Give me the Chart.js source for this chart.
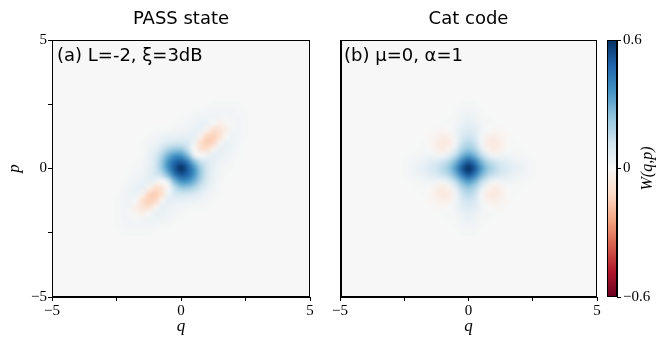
<!DOCTYPE html>
<html>
<head>
<meta charset="utf-8">
<script src="https://cdn.jsdelivr.net/npm/chart.js@4.4.0/dist/chart.umd.min.js"></script>
<style>
  html, body { margin: 0; padding: 0; background: #fff; }
  #wrap { position: relative; width: 661px; height: 340px; overflow: hidden; }
  canvas { position: absolute; top: 0; }
  #chartA { left: 0; }
  #chartB { left: 320px; }
  #chartC { left: 600px; }
</style>
</head>
<body>
<div id="wrap">
  <canvas id="chartA" width="320" height="340"></canvas>
  <canvas id="chartB" width="290" height="340"></canvas>
  <canvas id="chartC" width="61" height="340"></canvas>
</div>
<script>
const qTicks = [-5, -2.5, 0, 2.5, 5];
const pTicks = [-5, -2.5, 0, 2.5, 5];
const labelledTicks = [-5, 0, 5];
const wTicks = [-0.6, 0, 0.6];

// sample grid of the Wigner function (cell centres)
const gridQ = [-2.5, -2.25, -2, -1.75, -1.5, -1.25, -1, -0.75, -0.5, -0.25, 0,
               0.25, 0.5, 0.75, 1, 1.25, 1.5, 1.75, 2, 2.25, 2.5];
const gridP = [2.5, 2.25, 2, 1.75, 1.5, 1.25, 1, 0.75, 0.5, 0.25, 0,
               -0.25, -0.5, -0.75, -1, -1.25, -1.5, -1.75, -2, -2.25, -2.5];

// W(q,p) in units of 0.01, one row per p (top row p = 2.5)
const passW = [
  [0,0,0,0,0,0,0,0,0,0,0,0,0,0,0,1,1,1,1,1,0],
  [0,0,0,0,0,0,0,0,0,0,0,0,1,1,2,2,2,2,2,1,1],
  [0,0,0,0,0,0,0,0,0,0,1,1,2,3,3,3,2,1,2,2,1],
  [0,0,0,0,0,0,0,0,0,1,1,2,3,4,4,0,-4,-1,1,2,1],
  [0,0,0,0,0,0,1,1,1,2,2,3,4,5,-2,-10,-8,-4,2,2,1],
  [0,0,0,0,0,1,2,3,4,4,5,5,6,-2,-13,-14,-10,0,3,2,1],
  [0,0,0,0,1,2,3,6,9,11,11,10,3,-10,-15,-13,-2,4,3,2,0],
  [0,0,0,0,1,3,6,12,18,22,22,14,0,-8,-10,-2,5,4,3,1,0],
  [0,0,0,0,1,4,9,18,29,36,36,27,6,0,3,6,4,3,2,1,0],
  [0,0,0,1,2,4,11,22,36,48,51,43,27,14,10,5,3,2,1,0,0],
  [0,0,1,1,2,5,11,22,36,51,60,51,36,22,11,5,2,1,1,0,0],
  [0,0,1,2,3,5,10,14,27,43,51,48,36,22,11,4,2,1,0,0,0],
  [0,1,2,3,4,6,3,0,6,27,36,36,29,18,9,4,1,0,0,0,0],
  [0,1,3,4,5,-2,-10,-8,0,14,22,22,18,12,6,3,1,0,0,0,0],
  [0,2,3,4,-2,-13,-15,-10,3,10,11,11,9,6,3,2,1,0,0,0,0],
  [1,2,3,0,-10,-14,-13,-2,6,5,5,4,4,3,2,1,0,0,0,0,0],
  [1,2,2,-4,-8,-10,-2,5,4,3,2,2,1,1,1,0,0,0,0,0,0],
  [1,2,1,-1,-4,0,4,4,3,2,1,1,0,0,0,0,0,0,0,0,0],
  [1,2,2,1,2,3,3,3,2,1,1,0,0,0,0,0,0,0,0,0,0],
  [1,1,2,2,2,2,2,1,1,0,0,0,0,0,0,0,0,0,0,0,0],
  [0,1,1,1,1,1,0,0,0,0,0,0,0,0,0,0,0,0,0,0,0]
];

const catW = [
  [0,0,0,0,0,0,0,0,0,1,1,1,0,0,0,0,0,0,0,0,0],
  [0,0,0,0,0,0,0,0,1,2,2,2,1,0,0,0,0,0,0,0,0],
  [0,0,0,0,0,0,0,1,1,3,4,3,1,1,0,0,0,0,0,0,0],
  [0,0,0,0,0,0,1,1,2,4,6,4,2,1,1,0,0,0,0,0,0],
  [0,0,0,0,0,-1,-1,0,3,7,9,7,3,0,-1,-1,0,0,0,0,0],
  [0,0,0,0,-1,-2,-4,-3,2,9,12,9,2,-3,-4,-2,-1,0,0,0,0],
  [0,0,0,1,-1,-4,-6,-5,2,13,17,13,2,-5,-6,-4,-1,1,0,0,0],
  [0,0,1,1,0,-3,-5,-2,7,18,23,18,7,-2,-5,-3,0,1,1,0,0],
  [0,1,1,2,3,2,2,7,16,28,34,28,16,7,2,2,3,2,1,1,0],
  [1,2,3,4,7,9,13,18,28,42,51,42,28,18,13,9,7,4,3,2,1],
  [1,2,4,6,9,12,17,23,34,51,60,51,34,23,17,12,9,6,4,2,1],
  [1,2,3,4,7,9,13,18,28,42,51,42,28,18,13,9,7,4,3,2,1],
  [0,1,1,2,3,2,2,7,16,28,34,28,16,7,2,2,3,2,1,1,0],
  [0,0,1,1,0,-3,-5,-2,7,18,23,18,7,-2,-5,-3,0,1,1,0,0],
  [0,0,0,1,-1,-4,-6,-5,2,13,17,13,2,-5,-6,-4,-1,1,0,0,0],
  [0,0,0,0,-1,-2,-4,-3,2,9,12,9,2,-3,-4,-2,-1,0,0,0,0],
  [0,0,0,0,0,-1,-1,0,3,7,9,7,3,0,-1,-1,0,0,0,0,0],
  [0,0,0,0,0,0,1,1,2,4,6,4,2,1,1,0,0,0,0,0,0],
  [0,0,0,0,0,0,0,1,1,3,4,3,1,1,0,0,0,0,0,0,0],
  [0,0,0,0,0,0,0,0,1,2,2,2,1,0,0,0,0,0,0,0,0],
  [0,0,0,0,0,0,0,0,0,1,1,1,0,0,0,0,0,0,0,0,0]
];

const SERIF = "'Liberation Serif', 'DejaVu Serif', serif";
const SANS = "'DejaVu Sans', sans-serif";

// matplotlib RdBu, from -0.6 (bottom) to 0.6 (top)
const rdbuStops = ['#67001f', '#b2182b', '#d6604d', '#f4a582', '#fddbc7', '#f7f7f7',
                   '#d1e5f0', '#92c5de', '#4393c3', '#2166ac', '#053061'];
const cmap = rdbuStops.map(h => [1, 3, 5].map(i => parseInt(h.substr(i, 2), 16)));

function rdbu(t) {
  t = Math.min(1, Math.max(0, t));
  const s = t * (cmap.length - 1);
  const i = Math.min(Math.floor(s), cmap.length - 2);
  const f = s - i;
  return cmap[i].map((c, k) => Math.round(c + (cmap[i + 1][k] - c) * f));
}

function colorOf(w) {
  return rdbu((w - wTicks[0]) / (wTicks[2] - wTicks[0]));
}

function fmt(v) {
  return v < 0 ? '\u2212' + Math.abs(v) : String(v);
}

function buildImage(rows) {
  const h = rows.length, w = rows[0].length;
  const c = document.createElement('canvas');
  c.width = w;
  c.height = h;
  const g = c.getContext('2d');
  const im = g.createImageData(w, h);
  rows.forEach((row, j) => row.forEach((v, i) => {
    const rgb = colorOf(v * 0.01);
    const k = (j * w + i) * 4;
    im.data[k] = rgb[0];
    im.data[k + 1] = rgb[1];
    im.data[k + 2] = rgb[2];
    im.data[k + 3] = 255;
  }));
  g.putImageData(im, 0, 0);
  return c;
}

function heatPlugin(rows) {
  const img = buildImage(rows);
  return {
    id: 'heat',
    beforeDatasetsDraw(chart) {
      const { ctx, chartArea: a, scales: { x, y } } = chart;
      const bg = colorOf(0);
      ctx.save();
      ctx.fillStyle = `rgb(${bg[0]},${bg[1]},${bg[2]})`;
      ctx.fillRect(a.left, a.top, a.width, a.height);
      const dq = (gridQ[1] - gridQ[0]) / 2;
      const dp = (gridP[0] - gridP[1]) / 2;
      const x0 = x.getPixelForValue(gridQ[0] - dq);
      const x1 = x.getPixelForValue(gridQ[gridQ.length - 1] + dq);
      const y0 = y.getPixelForValue(gridP[0] + dp);
      const y1 = y.getPixelForValue(gridP[gridP.length - 1] - dp);
      ctx.imageSmoothingEnabled = true;
      ctx.imageSmoothingQuality = 'high';
      ctx.drawImage(img, x0, y0, x1 - x0, y1 - y0);
      ctx.restore();
    }
  };
}

function framePlugin(leftExtra) {
  return {
    id: 'frame',
    afterDatasetsDraw(chart) {
      const { ctx, chartArea: a } = chart;
      const l = Math.round(a.left), t = Math.round(a.top);
      const r = Math.round(a.right), b = Math.round(a.bottom);
      ctx.save();
      ctx.strokeStyle = '#000';
      ctx.lineWidth = 1;
      ctx.strokeRect(l + 0.5, t + 0.5, r - l - 1, b - t - 1);
      if (leftExtra) {
        ctx.beginPath();
        ctx.moveTo(l + 1.5, t);
        ctx.lineTo(l + 1.5, b);
        ctx.stroke();
      }
      ctx.restore();
    }
  };
}

function notePlugin(text, dx) {
  return {
    id: 'note',
    afterDatasetsDraw(chart) {
      const { ctx, chartArea: a } = chart;
      ctx.save();
      ctx.fillStyle = '#000';
      ctx.font = '18px ' + SANS;
      ctx.textBaseline = 'alphabetic';
      ctx.fillText(text, a.left + dx, a.top + 21);
      ctx.restore();
    }
  };
}

function xAxis() {
  return {
    type: 'linear', min: -5, max: 5, position: 'bottom',
    afterBuildTicks: s => { s.ticks = qTicks.map(v => ({ value: v })); },
    afterFit: s => { s.height = 43; },
    ticks: {
      autoSkip: false, maxRotation: 0, padding: 1, color: '#000',
      font: { family: SERIF, size: 15 },
      callback: v => labelledTicks.includes(v) ? fmt(v) : ''
    },
    grid: { drawOnChartArea: false, drawTicks: true, tickLength: 4, color: '#000' },
    border: { display: true, color: '#000' },
    title: {
      display: true, text: 'q', color: '#000',
      font: { family: SERIF, size: 17, style: 'italic' },
      padding: { top: 0, bottom: 3 }
    }
  };
}

function yAxis(show) {
  if (!show) return { type: 'linear', min: -5, max: 5, display: false };
  return {
    type: 'linear', min: -5, max: 5, position: 'left',
    afterBuildTicks: s => { s.ticks = pTicks.map(v => ({ value: v })); },
    afterFit: s => { s.width = 52; },
    ticks: {
      autoSkip: false, padding: 1, color: '#000',
      font: { family: SERIF, size: 15 },
      callback: v => labelledTicks.includes(v) ? fmt(v) : ''
    },
    grid: { drawOnChartArea: false, drawTicks: true, tickLength: 4, color: '#000' },
    border: { display: true, color: '#000' },
    title: {
      display: true, text: 'p', color: '#000',
      font: { family: SERIF, size: 17, style: 'italic' },
      padding: { top: 4, bottom: 0 }
    }
  };
}

function panel(id, title, rows, note, noteDx, showY, pad) {
  return new Chart(document.getElementById(id), {
    type: 'scatter',
    data: { datasets: [] },
    options: {
      responsive: false,
      animation: false,
      layout: { padding: pad },
      scales: { x: xAxis(), y: yAxis(showY) },
      plugins: {
        legend: { display: false },
        tooltip: { enabled: false },
        title: {
          display: true, text: title, color: '#000', fullSize: false,
          font: { family: SANS, size: 18, weight: 'normal' },
          padding: { top: 9, bottom: 9.4 }
        }
      }
    },
    plugins: [heatPlugin(rows), framePlugin(!showY), notePlugin(note, noteDx)]
  });
}

panel('chartA', 'PASS state', passW, '(a) L=-2, \u03be=3dB', 5, true,
  { top: 0, left: 0, right: 10, bottom: 0 });
panel('chartB', 'Cat code', catW, '(b) \u03bc=0, \u03b1=1', 4, false,
  { top: 0, left: 20, right: 13, bottom: 0 });

// colour bar
new Chart(document.getElementById('chartC'), {
  type: 'scatter',
  data: { datasets: [] },
  options: {
    responsive: false,
    animation: false,
    layout: { padding: { top: 40, bottom: 43, left: 7, right: 0 } },
    scales: {
      x: { display: false, min: 0, max: 1 },
      y: {
        type: 'linear', position: 'right', min: wTicks[0], max: wTicks[2],
        afterBuildTicks: s => { s.ticks = wTicks.map(v => ({ value: v })); },
        afterFit: s => { s.width = 44; },
        ticks: {
          autoSkip: false, padding: 2, color: '#000',
          font: { family: SERIF, size: 15 },
          callback: v => fmt(v)
        },
        grid: { drawOnChartArea: false, drawTicks: true, tickLength: 4, color: '#000' },
        border: { display: true, color: '#000' }
      }
    },
    plugins: { legend: { display: false }, tooltip: { enabled: false } }
  },
  plugins: [{
    id: 'bar',
    beforeDatasetsDraw(chart) {
      const { ctx, chartArea: a, scales: { y } } = chart;
      const g = ctx.createLinearGradient(0, y.getPixelForValue(wTicks[0]), 0, y.getPixelForValue(wTicks[2]));
      rdbuStops.forEach((c, i) => g.addColorStop(i / (rdbuStops.length - 1), c));
      ctx.save();
      ctx.fillStyle = g;
      ctx.fillRect(a.left, a.top, a.width, a.height);
      ctx.restore();
    },
    afterDraw(chart) {
      const { ctx, chartArea: a } = chart;
      ctx.save();
      ctx.strokeStyle = '#000';
      ctx.lineWidth = 1;
      ctx.strokeRect(Math.round(a.left) + 0.5, Math.round(a.top) + 0.5,
        Math.round(a.width) - 1, Math.round(a.height) - 1);
      ctx.translate(48, (a.top + a.bottom) / 2);
      ctx.rotate(-Math.PI / 2);
      ctx.fillStyle = '#000';
      ctx.font = 'italic 16px ' + SERIF;
      ctx.textAlign = 'center';
      ctx.textBaseline = 'middle';
      ctx.fillText('W(q,p)', 0, 0);
      ctx.restore();
    }
  }]
});
</script>
</body>
</html>
